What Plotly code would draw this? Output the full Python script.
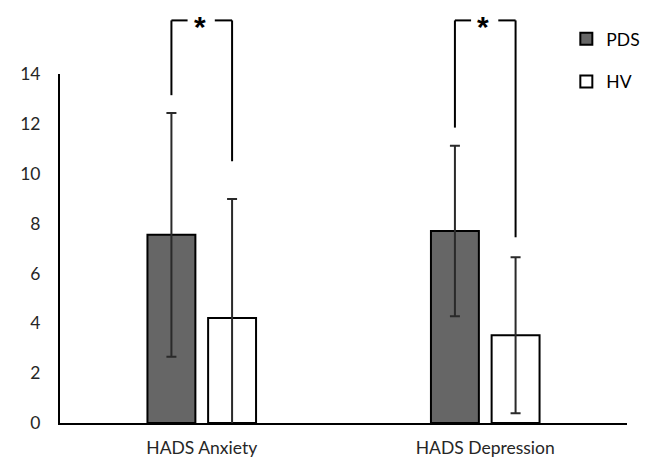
import plotly.graph_objects as go

categories = ["HADS Anxiety", "HADS Depression"]
pds_mean = [7.55, 7.70]
pds_sd = [4.89, 3.42]
hv_mean = [4.21, 3.52]
hv_sd = [4.78, 3.13]

# significance brackets: top level and lower ends (PDS side, HV side), in data units
bracket_top = 16.15
bracket_low_pds = [13.15, 11.85]
bracket_low_hv = [10.5, 7.45]
sig_labels = ["*", "*"]

y_max = 14
font = "Lato, 'Open Sans', sans-serif"
bargap = 0.572

fig = go.Figure()
fig.add_trace(go.Bar(
    name="PDS", x=categories, y=pds_mean,
    marker=dict(color="#666666", line=dict(color="black", width=2)),
    error_y=dict(type="data", array=pds_sd, color="#2a2a2a", thickness=2, width=5),
    legendgroup="a",
))
fig.add_trace(go.Bar(
    name="HV", x=categories, y=hv_mean,
    marker=dict(color="white", line=dict(color="black", width=2)),
    error_y=dict(type="data", array=hv_sd, color="#2a2a2a", thickness=2, width=5),
    legendgroup="b",
))

# brackets drawn in paper y so they can sit above the plot area
off = (1 - bargap) / 4  # bar centre offset from category centre
for i, cat in enumerate(categories):
    xl = i - off
    xr = i + off
    top = bracket_top / y_max
    line = dict(color="black", width=2)
    fig.add_shape(type="line", xref="x", yref="paper", x0=xl, x1=xl,
                  y0=bracket_low_pds[i] / y_max, y1=top, line=line)
    fig.add_shape(type="line", xref="x", yref="paper", x0=xr, x1=xr,
                  y0=bracket_low_hv[i] / y_max, y1=top, line=line)
    fig.add_shape(type="line", xref="x", yref="paper", x0=xl, x1=i - 0.05,
                  y0=top, y1=top, line=line)
    fig.add_shape(type="line", xref="x", yref="paper", x0=i + 0.046, x1=xr,
                  y0=top, y1=top, line=line)
    fig.add_annotation(x=i, y=top, xref="x", yref="paper", text="<b>" + sig_labels[i] + "</b>",
                       showarrow=False, yanchor="middle", yshift=-6, xshift=-2,
                       font=dict(size=30, color="black", family="Arial"))

fig.update_layout(
    width=649, height=472,
    plot_bgcolor="white", paper_bgcolor="white",
    margin=dict(l=46, r=21, t=66, b=57),
    barmode="group", bargap=bargap, bargroupgap=0.21,
    font=dict(family=font, size=17.5, color="#333333"),
    showlegend=True,
    legend=dict(x=0.893, y=1.152, xanchor="left", yanchor="top",
                tracegroupgap=17, font=dict(size=17.5, color="black"),
                bgcolor="rgba(0,0,0,0)", itemwidth=30),
)
fig.update_xaxes(showline=True, linecolor="black", linewidth=2,
                 ticks="", showgrid=False, range=[-0.5, 1.5],
                 ticklabelstandoff=8,
                 tickfont=dict(size=17.5, color="#262626"))
fig.update_yaxes(showline=True, linecolor="black", linewidth=2,
                 range=[0, y_max], dtick=2, showgrid=False, zeroline=False,
                 ticks="", ticklabelstandoff=14,
                 tickfont=dict(size=17.5, color="#262626"))

fig.write_html("out.html")
